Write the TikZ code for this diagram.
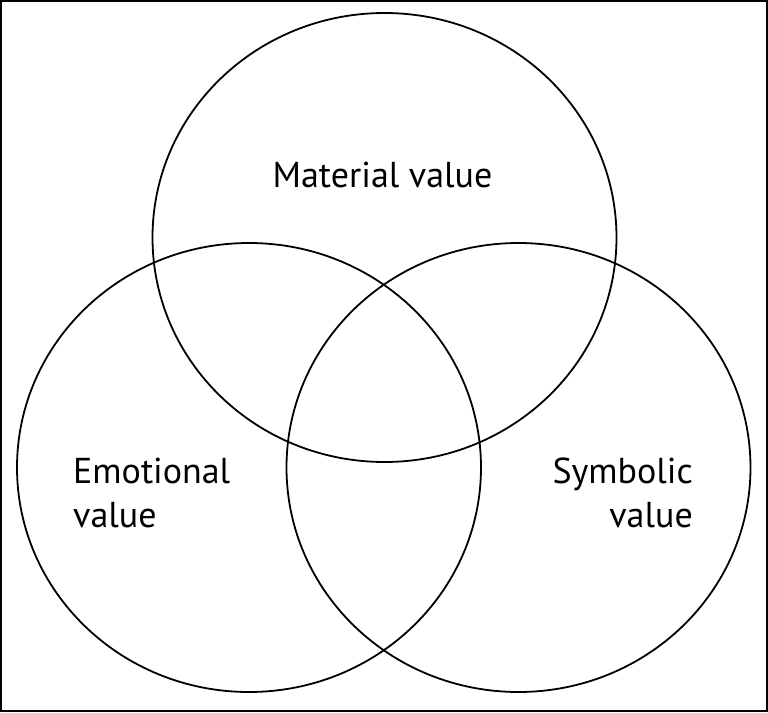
\documentclass[tikz,border=0pt]{standalone}
\usepackage{fontspec}
\setmainfont{PT Sans}
\usetikzlibrary{shapes.geometric}
\begin{document}
\begin{tikzpicture}[x=1pt,y=1pt,
  venn/.style={draw, ellipse, line width=1.8pt, minimum width=464pt, minimum height=449pt, inner sep=0pt},
  lbl/.style={font=\fontsize{36}{43.5}\selectfont, inner sep=0pt}]
\useasboundingbox (0,0) rectangle (768,-712);
\node[draw, line width=2.2pt, minimum width=765.8pt, minimum height=709.8pt, inner sep=0pt] (frame) at (384,-356) {};
\node[venn] (mat) at (384.5,-237.5) {};
\node[venn] (emo) at (249,-467.5) {};
\node[venn] (sym) at (518.5,-467.5) {};
\node[lbl, anchor=base] (tmat) at (382.5,-187) {Material value};
\node[lbl, anchor=north west, align=left] (temo) at (73,-458) {Emotional\\value};
\node[lbl, anchor=north east, align=right] (tsym) at (693,-458) {Symbolic\\value};
\end{tikzpicture}
\end{document}
